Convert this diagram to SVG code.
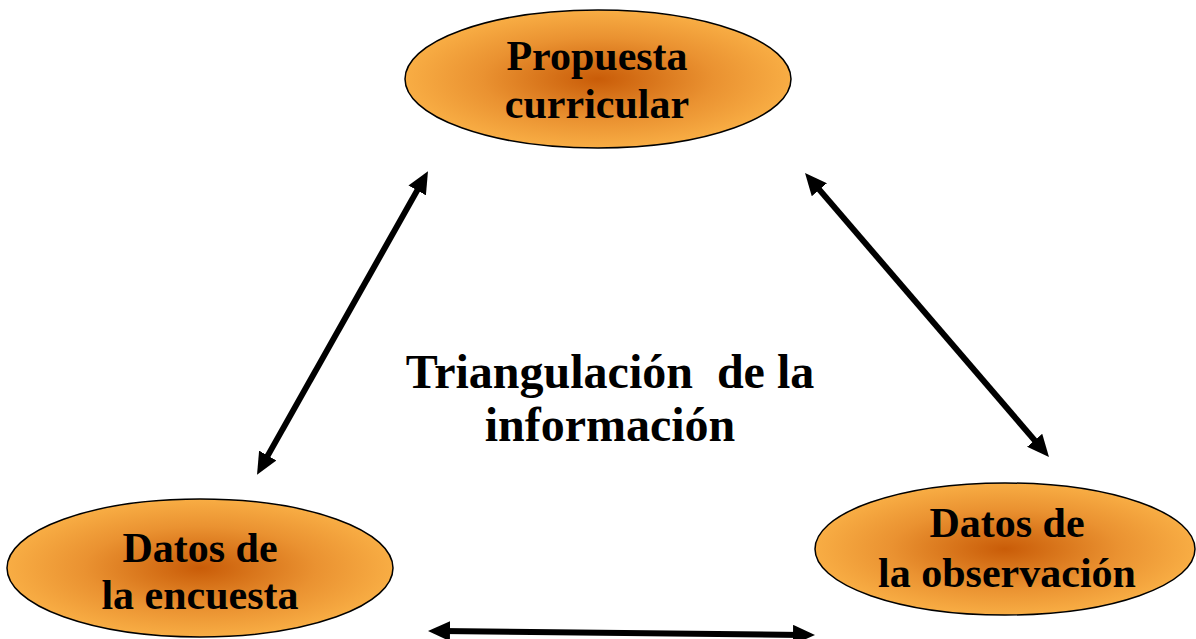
<svg xmlns="http://www.w3.org/2000/svg" width="1196" height="639" viewBox="0 0 1196 639">
<style>
.node ellipse{fill:url(#og);stroke:#000;stroke-width:1.5}
.lbl{font-family:"Liberation Serif","Times New Roman",serif;font-weight:bold;font-size:42px;fill:#000;text-anchor:middle;white-space:pre}
.big{font-size:48px}
.conn line{stroke:#000;stroke-width:6;marker-start:url(#ah);marker-end:url(#ah)}
</style>
<defs>
<radialGradient id="og" cx="50%" cy="50%" r="50%">
<stop offset="0" stop-color="#c95c08"/>
<stop offset="0.6" stop-color="#ea9231"/>
<stop offset="1" stop-color="#f8ad44"/>
</radialGradient>
<marker id="ah" markerUnits="userSpaceOnUse" markerWidth="22" markerHeight="20" viewBox="0 0 22 20" refX="9" refY="10" orient="auto-start-reverse">
<path d="M0,0 L22,10 L0,20 z" fill="#000"/>
</marker>
</defs>
<g id="connectors" class="conn">
<line x1="263.4" y1="463.4" x2="421.6" y2="182.6"/>
<line x1="813.5" y1="182.9" x2="1040.5" y2="447.1"/>
<line x1="441" y1="631.1" x2="802" y2="634.9"/>
</g>
<g id="propuesta" class="node">
<ellipse cx="598" cy="79" rx="193" ry="69"/>
<text class="lbl" x="597" y="70">Propuesta</text>
<text class="lbl" x="597" y="118">curricular</text>
</g>
<g id="encuesta" class="node">
<ellipse cx="200" cy="568" rx="193" ry="69"/>
<text class="lbl" x="200" y="562">Datos de</text>
<text class="lbl" x="200" y="609">la encuesta</text>
</g>
<g id="observacion" class="node">
<ellipse cx="1005" cy="549" rx="190" ry="66"/>
<text class="lbl" x="1007" y="537">Datos de</text>
<text class="lbl" x="1007" y="587">la observación</text>
</g>
<g id="centro">
<text class="lbl big" x="610" y="388">Triangulación  de la</text>
<text class="lbl big" x="610" y="441">información</text>
</g>
</svg>
